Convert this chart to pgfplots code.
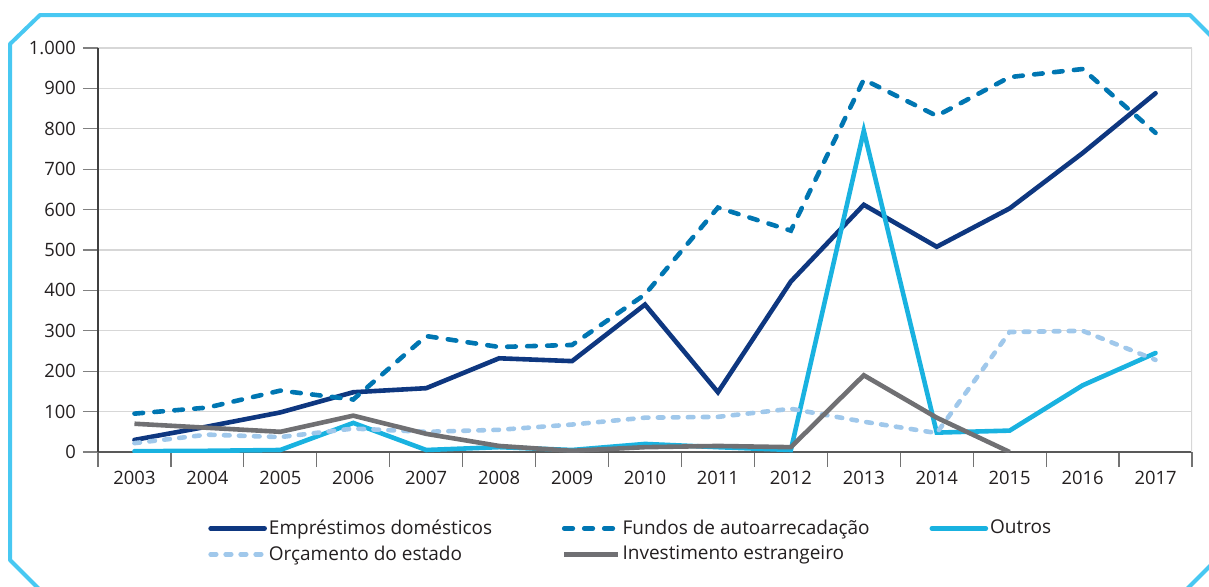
\documentclass[border=0pt]{standalone}
\usepackage{fontspec}
\setmainfont{Open Sans}
\usepackage{pgfplots}
\pgfplotsset{compat=1.18}
\usepackage{pgfplotstable}

\definecolor{cemp}{RGB}{14,55,128}
\definecolor{cfun}{RGB}{0,118,178}
\definecolor{cout}{RGB}{25,178,224}
\definecolor{corc}{RGB}{160,200,235}
\definecolor{cinv}{RGB}{112,112,115}
\definecolor{cframe}{RGB}{72,200,242}
\definecolor{ctext}{RGB}{35,31,32}
\definecolor{cgrid}{RGB}{215,215,215}

\pgfplotstableread{
year emp fun out orc
2003 30  95  2   22
2004 63  110 3   43
2005 98  152 5   37
2006 148 130 72  58
2007 158 287 5   50
2008 232 260 12  55
2009 225 265 5   68
2010 365 390 20  85
2011 148 605 12  87
2012 422 548 5   107
2013 612 922 795 75
2014 508 832 48  47
2015 603 928 53  297
2016 740 948 165 300
2017 888 790 245 228
}\data

\pgfplotstableread{
year inv
2003 70
2004 60
2005 50
2006 90
2007 45
2008 15
2009 3
2010 12
2011 15
2012 12
2013 190
2014 85
2015 0
}\invdata

\begin{document}
\begin{tikzpicture}
\useasboundingbox (0pt,0pt) rectangle (604.5pt,-293pt);
\begin{scope}
\clip (0pt,0pt) rectangle (604.5pt,-293pt);
\draw[cframe, line width=2pt, line join=round]
  (5pt,-22pt) -- (20pt,-7.5pt) -- (595pt,-7.5pt) -- (610pt,-22.5pt)
  -- (610pt,-278pt) -- (588pt,-300pt) -- (25pt,-300pt) -- (5pt,-280pt) -- cycle;
\end{scope}
\begin{axis}[
  at={(49pt,-226pt)}, anchor=south west,
  scale only axis, width=547pt, height=202pt,
  xmin=0, xmax=15, ymin=0, ymax=1000,
  axis x line*=bottom, axis y line*=left,
  x axis line style={draw=black!65, line width=0.8pt, -},
  y axis line style={draw=black!75, line width=0.6pt, -},
  xtick={0.5,1.5,...,14.5},
  xticklabels={2003,2004,2005,2006,2007,2008,2009,2010,2011,2012,2013,2014,2015,2016,2017},
  minor xtick={0,1,...,15},
  major x tick style={draw=none},
  minor x tick style={draw=black!55, line width=0.6pt},
  ytick={0,100,...,1000},
  y tick style={draw=black!50, line width=0.6pt},
  tick align=outside, major tick length=7.5pt, minor tick length=7.5pt,
  ymajorgrids, major grid style={draw=cgrid, line width=0.6pt},
  tick label style={font=\fontsize{9.2}{11}\selectfont, text=ctext},
  xticklabel style={yshift=1.5pt},
  /pgf/number format/.cd, 1000 sep={.}, assume math mode=true,
  /pgfplots/.cd,
  legend columns=3,
  legend cell align=left,
  legend style={at={(0.1005,-0.156)}, anchor=north west, draw=none, fill=none,
    inner sep=0pt, column sep=0pt, font=\fontsize{9.5}{11}\selectfont,
    text=ctext, nodes={inner ysep=2.1pt, inner xsep=1pt}},
  legend image code/.code={\draw[#1] (0pt,0pt) -- (27pt,0pt);},
  every axis plot/.append style={line width=2.3pt},
]
\draw[cgrid, line width=0.6pt] (rel axis cs:1,0) -- (rel axis cs:1,1);
\addplot[cemp, line cap=round] table[x expr=\thisrow{year}-2002.5, y=emp] {\data};
\addlegendentry{\makebox[145.5pt][l]{Empréstimos domésticos}}
\addplot[cfun, line cap=round, dash pattern=on 4.3pt off 5.7pt] table[x expr=\thisrow{year}-2002.5, y=fun] {\data};
\addlegendentry{\makebox[152.5pt][l]{Fundos de autoarrecadação}}
\addplot[cout, line cap=round] table[x expr=\thisrow{year}-2002.5, y=out] {\data};
\addlegendentry{Outros}
\addplot[corc, line cap=round, dash pattern=on 2.8pt off 4.7pt] table[x expr=\thisrow{year}-2002.5, y=orc] {\data};
\addlegendentry{\makebox[145.5pt][l]{Orçamento do estado}}
\addplot[cinv, line cap=butt] table[x expr=\thisrow{year}-2002.5, y=inv] {\invdata};
\addlegendentry{\makebox[152.5pt][l]{Investimento estrangeiro}}
\end{axis}
\end{tikzpicture}
\end{document}
